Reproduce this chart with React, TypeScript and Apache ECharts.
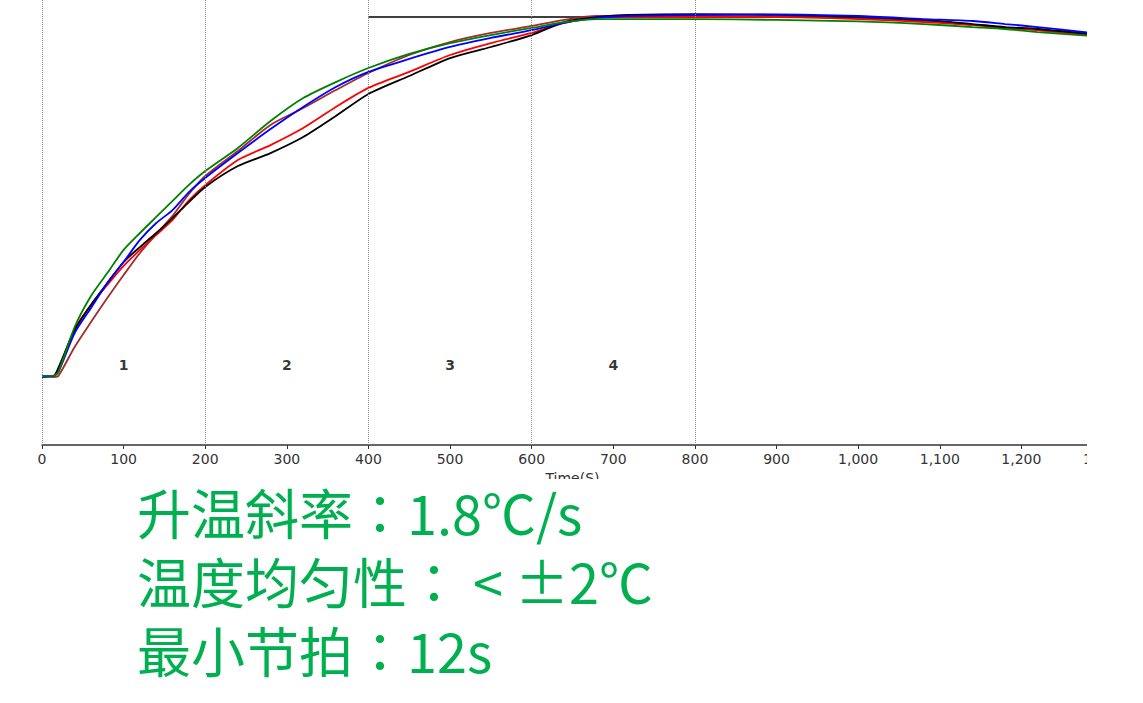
import React, { useEffect, useRef } from "react";
import * as echarts from "echarts";

// time (s)
const timeS = [0, 14, 20, 40, 60, 80, 100, 120, 140, 160, 180, 200, 240, 280, 320, 360, 400, 450, 500, 550, 600, 640, 680, 720, 800, 900, 1000, 1080, 1140, 1180, 1220, 1285];
// temperatures (°C)
const greenT = [38.8, 38.8, 41.0, 66.3, 83.7, 96.6, 109.6, 119.1, 128.1, 137.1, 146.1, 153.9, 166.9, 182.0, 194.9, 203.9, 211.8, 219.7, 225.8, 230.3, 234.3, 237.6, 239.3, 239.3, 239.3, 238.8, 238.0, 236.5, 234.8, 233.7, 232.0, 229.8];
const blueT = [38.2, 38.8, 41.0, 62.9, 77.0, 91.0, 102.8, 115.2, 124.7, 132.0, 142.1, 150.0, 164.0, 177.5, 189.9, 201.1, 209.6, 216.9, 223.6, 228.7, 233.1, 237.1, 239.9, 241.0, 241.6, 241.9, 241.0, 239.3, 238.2, 236.5, 234.8, 231.5];
const blackT = [38.8, 38.8, 43.3, 64.6, 78.7, 91.0, 102.8, 111.2, 119.1, 127.5, 136.5, 145.0, 156.7, 164.0, 173.0, 184.8, 197.2, 207.3, 217.4, 223.6, 230.3, 237.6, 240.4, 241.6, 242.1, 241.6, 240.4, 238.8, 236.5, 234.8, 233.7, 230.9];
const redT = [38.8, 38.8, 42.1, 65.2, 78.7, 89.9, 100.6, 109.6, 118.0, 126.4, 137.5, 146.0, 160.1, 168.5, 178.1, 189.9, 200.6, 209.6, 219.1, 225.8, 231.5, 237.1, 240.4, 240.4, 240.4, 240.4, 239.3, 237.6, 236.0, 234.3, 233.1, 230.3];
const brownT = [38.8, 38.2, 38.8, 55.1, 69.1, 82.6, 95.5, 107.9, 118.5, 128.7, 141.0, 151.1, 165.2, 179.8, 189.3, 199.4, 209.0, 219.1, 226.4, 231.5, 235.4, 238.8, 241.0, 241.0, 241.0, 240.7, 239.9, 238.2, 236.0, 234.3, 233.1, 230.3];

// setpoint line
const setpointX = [400, 680];
const setpointY = 240.4;

// zone dividers and labels
const zoneLines = [0, 200, 400, 600, 800];
const zoneNames = ["1", "2", "3", "4"];
const zoneX = [100, 300, 500, 700];
const zoneY = 44.9;

// notes: label, colon, value
const noteLabels = ["升温斜率", "温度均匀性", "最小节拍"];
const noteValues = [" 1.8℃/s", "  < ±2℃", " 12s"];

const NOTE_FONT = 54;

export default function App() {
  const ref = useRef<HTMLDivElement>(null);
  useEffect(() => {
    const chart = echarts.init(ref.current!, null, { renderer: "svg" });
    const zip = (ys: number[]) => timeS.map((t, i) => [t, ys[i]]);
    const lineSeries = (name: string, color: string, ys: number[]) => ({
      name,
      type: "line",
      data: zip(ys),
      showSymbol: false,
      smooth: 0.25,
      lineStyle: { color, width: 1.8 },
      z: 3,
    });
    const noteText = (text: string, x: number, y: number, family: string) => ({
      type: "text",
      x,
      y,
      z: 101,
      style: {
        text,
        fontSize: NOTE_FONT,
        lineHeight: 60,
        fontFamily: family,
        fill: "#00b050",
        verticalAlign: "middle",
      },
    });
    const notes: any[] = [];
    noteLabels.forEach((lab, i) => {
      const y = 511 + i * 69;
      const n = lab.length;
      const v = noteValues[i];
      const lead = v.length - v.trimStart().length - 1;
      notes.push(noteText(lab, 137, y, "Noto Sans CJK SC"));
      notes.push(noteText("：", 137 + n * NOTE_FONT, y, "Noto Sans CJK JP"));
      notes.push(noteText(v.trimStart(), 137 + (n + 1) * NOTE_FONT + lead * 12, y, "Noto Sans CJK SC"));
    });
    chart.setOption({
      animation: false,
      grid: { left: 42, top: 0, width: 1061, height: 445, containLabel: false, outerBoundsMode: "none" },
      xAxis: {
        type: "value",
        min: 0,
        max: 1300,
        interval: 100,
        name: "Time(S)",
        nameLocation: "middle",
        nameGap: 21,
        nameTextStyle: { fontSize: 14, color: "#333", fontFamily: "DejaVu Sans", verticalAlign: "top" },
        axisLine: { lineStyle: { color: "#333", width: 1.5 } },
        axisTick: { show: true, length: 4, lineStyle: { color: "#333" } },
        axisLabel: {
          fontSize: 14,
          color: "#333",
          fontFamily: "DejaVu Sans",
          margin: 7,
          formatter: (v: number) => v.toLocaleString("en-US"),
        },
        splitLine: { show: false },
      },
      yAxis: { type: "value", min: 0, max: 250, show: false },
      series: [
        {
          name: "zones",
          type: "line",
          data: [],
          markLine: {
            silent: true,
            symbol: "none",
            label: { show: false },
            lineStyle: { type: "dotted", color: "#888", width: 1 },
            data: zoneLines.map((x) => ({ xAxis: x })),
          },
        },
        {
          name: "setpoint",
          type: "line",
          data: setpointX.map((x) => [x, setpointY]),
          showSymbol: false,
          lineStyle: { color: "#000", width: 1.5 },
          z: 2,
        },
        lineSeries("brown", "#a52a2a", brownT),
        lineSeries("red", "#ff0000", redT),
        lineSeries("black", "#000000", blackT),
        lineSeries("blue", "#0000ff", blueT),
        lineSeries("green", "#008000", greenT),
        {
          name: "zoneLabels",
          type: "scatter",
          data: zoneX.map((x, i) => [x, zoneY, zoneNames[i]]),
          symbolSize: 1,
          itemStyle: { color: "rgba(0,0,0,0)" },
          label: {
            show: true,
            position: "inside",
            formatter: (p: any) => p.data[2],
            fontWeight: "bold",
            fontSize: 14,
            color: "#000",
            fontFamily: "DejaVu Sans",
          },
          z: 5,
        },
      ],
      graphic: [
        { type: "rect", x: 0, y: 479, shape: { width: 1087, height: 224 }, style: { fill: "#fff" }, z: 100 },
        ...notes,
      ],
    });
    return () => chart.dispose();
  }, []);
  return (
    <div style={{ position: "absolute", left: 0, top: 0, width: 1143, height: 703, background: "#fff" }}>
      <div ref={ref} style={{ width: 1087, height: 703 }} />
    </div>
  );
}
